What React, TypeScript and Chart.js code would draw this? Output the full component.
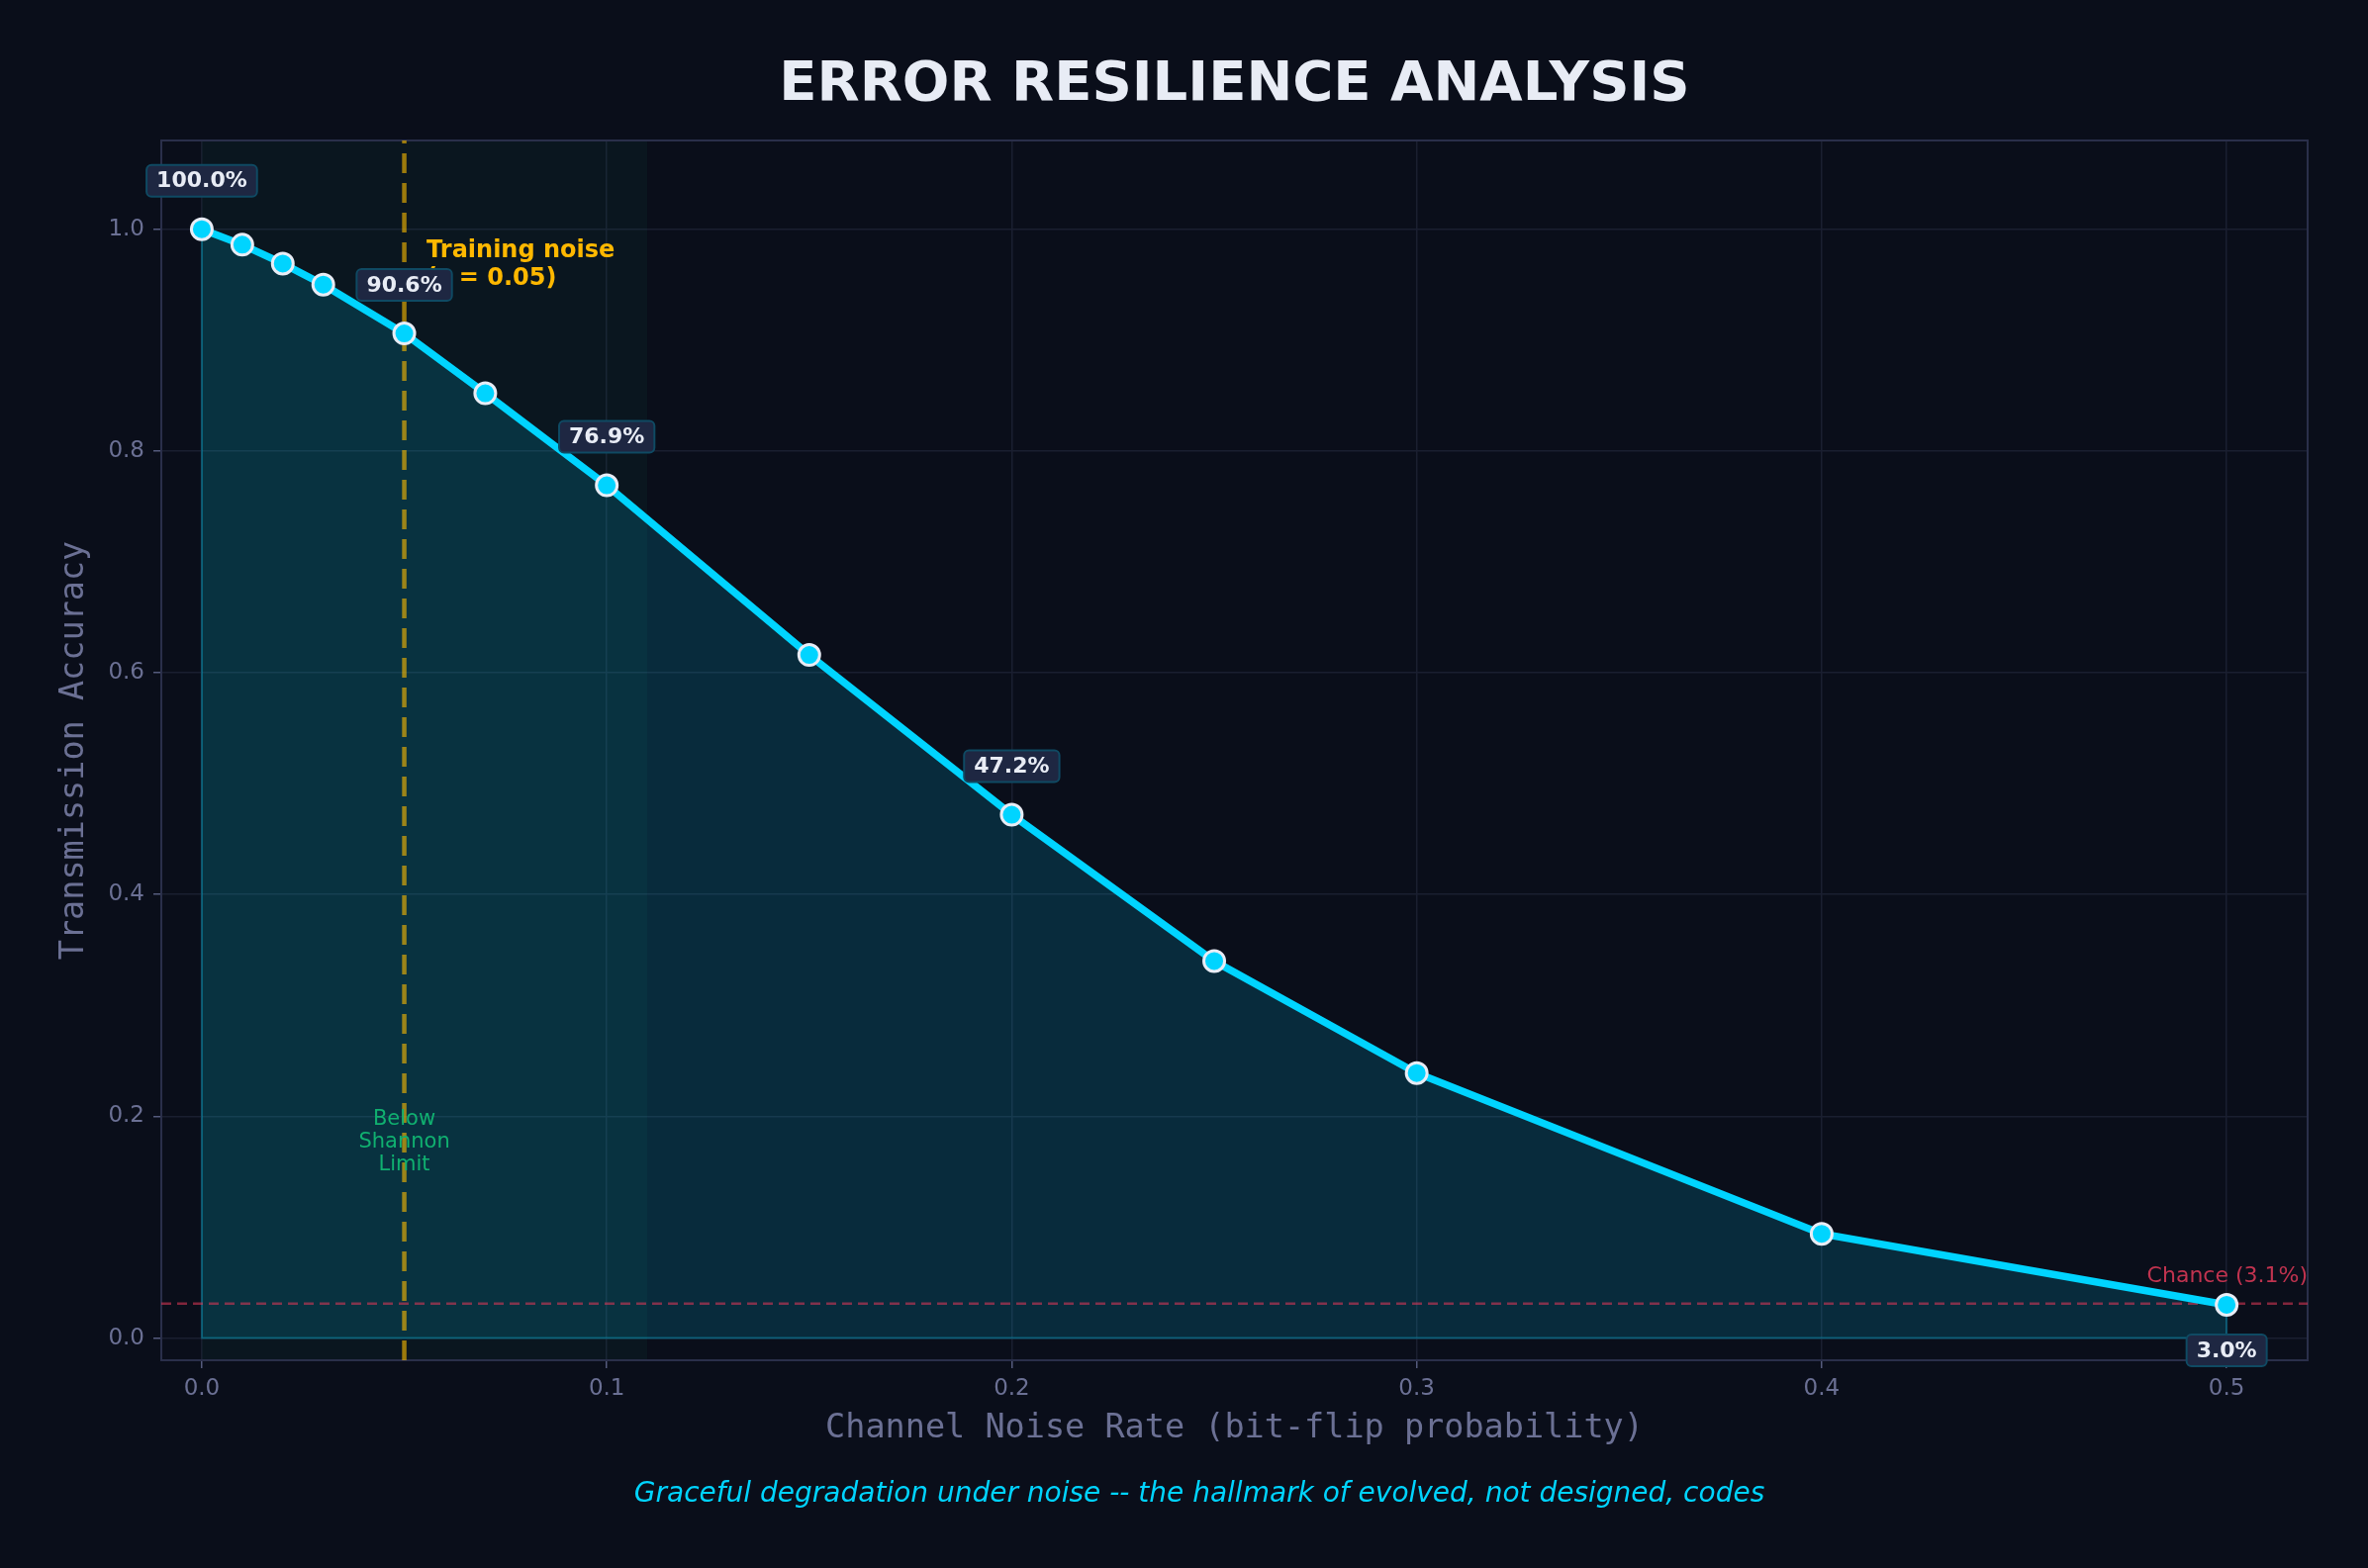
import { useEffect, useRef } from 'react';
import { Chart, registerables } from 'chart.js';

Chart.register(...registerables);

// Measured accuracy vs channel noise
const noiseRates = [0, 0.01, 0.02, 0.03, 0.05, 0.07, 0.1, 0.15, 0.2, 0.25, 0.3, 0.4, 0.5];
const accuracy = [1.0, 0.986, 0.969, 0.95, 0.906, 0.852, 0.769, 0.616, 0.472, 0.34, 0.239, 0.094, 0.03];
const labeledIndices = [0, 4, 6, 8, 12];

const xTicks = [0, 0.1, 0.2, 0.3, 0.4, 0.5];
const yTicks = [0, 0.2, 0.4, 0.6, 0.8, 1.0];
const xRange = [-0.01, 0.52];
const yRange = [-0.02, 1.08];

const trainingNoise = 0.05;
const shannonLimit = 0.11;
const chanceLevel = 0.031;

const BG = '#0a0e1a';
const CYAN = '#00d4ff';
const MUTED = '#6b7094';
const WHITE = '#e8ecf5';

const overlayPlugin = {
  id: 'overlay',
  beforeDatasetsDraw(chart: any) {
    const { ctx, chartArea: a, scales } = chart;
    const x0 = scales.x.getPixelForValue(0);
    const x1 = scales.x.getPixelForValue(shannonLimit);
    ctx.save();
    ctx.fillStyle = 'rgba(16, 185, 129, 0.05)';
    ctx.fillRect(x0, a.top, x1 - x0, a.bottom - a.top);
    // plot frame
    ctx.strokeStyle = '#2a2f4a';
    ctx.lineWidth = 2;
    ctx.strokeRect(a.left, a.top, a.right - a.left, a.bottom - a.top);
    ctx.restore();
  },
  afterDatasetsDraw(chart: any) {
    const { ctx, chartArea: a, scales } = chart;
    const xs = scales.x;
    const ys = scales.y;
    ctx.save();

    // below shannon limit note
    ctx.fillStyle = '#10b070';
    ctx.font = '21px "DejaVu Sans"';
    ctx.textAlign = 'center';
    ctx.textBaseline = 'middle';
    const sx = xs.getPixelForValue(trainingNoise);
    ['Below', 'Shannon', 'Limit'].forEach((t, i) => ctx.fillText(t, sx, 1132 + i * 23));

    // training noise note
    ctx.fillStyle = '#ffb800';
    ctx.font = 'bold 24px "DejaVu Sans"';
    ctx.textAlign = 'left';
    const tx = xs.getPixelForValue(trainingNoise + 0.0055);
    ctx.fillText('Training noise', tx, 254);
    ctx.fillText(`(\u03b5 = ${trainingNoise.toFixed(2)})`, tx, 282);

    // chance label
    ctx.fillStyle = '#c0334f';
    ctx.font = '22px "DejaVu Sans"';
    ctx.textAlign = 'right';
    ctx.textBaseline = 'bottom';
    ctx.fillText(`Chance (${(chanceLevel * 100).toFixed(1)}%)`, a.right, ys.getPixelForValue(chanceLevel) - 17);

    // value boxes
    ctx.font = 'bold 22px "DejaVu Sans"';
    ctx.textAlign = 'center';
    ctx.textBaseline = 'middle';
    labeledIndices.forEach((idx) => {
      const px = xs.getPixelForValue(noiseRates[idx]);
      const py = ys.getPixelForValue(accuracy[idx]);
      const below = idx === noiseRates.length - 1;
      const cy = below ? py + 46 : py - 49;
      const text = `${(accuracy[idx] * 100).toFixed(1)}%`;
      const w = ctx.measureText(text).width + 20;
      const h = 32;
      ctx.beginPath();
      ctx.roundRect(px - w / 2, cy - h / 2, w, h, 5);
      ctx.fillStyle = '#1e2742';
      ctx.fill();
      ctx.lineWidth = 2;
      ctx.strokeStyle = '#0f4a63';
      ctx.stroke();
      ctx.fillStyle = WHITE;
      ctx.fillText(text, px, cy + 1);
    });
    ctx.restore();
  },
  afterDraw(chart: any) {
    const { ctx, chartArea: a } = chart;
    ctx.save();
    ctx.fillStyle = WHITE;
    ctx.font = 'bold 56px "DejaVu Sans"';
    ctx.textAlign = 'center';
    ctx.textBaseline = 'middle';
    ctx.fillText('ERROR RESILIENCE ANALYSIS', (a.left + a.right) / 2, 86);

    ctx.fillStyle = CYAN;
    ctx.font = 'italic 28px "DejaVu Sans"';
    ctx.fillText('Graceful degradation under noise -- the hallmark of evolved, not designed, codes', 1212, 1511);
    ctx.restore();
  },
};

export default function App() {
  const canvasRef = useRef<HTMLCanvasElement>(null);
  const chartInstance = useRef<Chart | null>(null);

  useEffect(() => {
    document.body.style.margin = '0';
    document.body.style.background = BG;
    if (!canvasRef.current) return;
    if (chartInstance.current) chartInstance.current.destroy();

    const points = noiseRates.map((x, i) => ({ x, y: accuracy[i] }));
    const last = noiseRates.length - 1;

    chartInstance.current = new Chart(canvasRef.current, {
      type: 'line',
      data: {
        datasets: [
          {
            data: points,
            fill: 'origin',
            backgroundColor: 'rgba(0, 212, 255, 0.15)',
            borderWidth: 0,
            pointRadius: 0,
            order: 4,
          },
          {
            // edges of the filled area
            data: [
              { x: noiseRates[last], y: accuracy[last] },
              { x: noiseRates[last], y: 0 },
              { x: noiseRates[0], y: 0 },
              { x: noiseRates[0], y: accuracy[0] },
            ],
            borderColor: 'rgba(0, 212, 255, 0.3)',
            borderWidth: 2,
            pointRadius: 0,
            fill: false,
            order: 3,
          },
          {
            data: [
              { x: xRange[0], y: chanceLevel },
              { x: xRange[1], y: chanceLevel },
            ],
            borderColor: 'rgba(230, 57, 90, 0.55)',
            borderWidth: 2.5,
            borderDash: [10, 6],
            pointRadius: 0,
            fill: false,
            order: 2,
          },
          {
            data: [
              { x: trainingNoise, y: yRange[0] },
              { x: trainingNoise, y: yRange[1] },
            ],
            borderColor: 'rgba(255, 190, 0, 0.6)',
            borderWidth: 4.5,
            borderDash: [20, 10],
            pointRadius: 0,
            fill: false,
            order: 2,
          },
          {
            data: points,
            borderColor: CYAN,
            borderWidth: 7.5,
            tension: 0,
            fill: false,
            pointRadius: 10.5,
            pointBackgroundColor: CYAN,
            pointBorderColor: WHITE,
            pointBorderWidth: 3,
            order: 0,
          },
        ],
      },
      options: {
        responsive: true,
        maintainAspectRatio: false,
        animation: false,
        layout: { padding: { left: 0, top: 142, right: 61, bottom: 0 } },
        plugins: {
          legend: { display: false },
          tooltip: { enabled: false },
        },
        scales: {
          x: {
            type: 'linear',
            min: xRange[0],
            max: xRange[1],
            afterBuildTicks: (scale: any) => {
              scale.ticks = xTicks.map((value) => ({ value }));
            },
            afterFit: (scale: any) => {
              scale.height = 210;
            },
            border: { display: false },
            grid: { color: '#1a1f30', tickColor: '#555b7d', tickLength: 8, lineWidth: 1.5 },
            ticks: {
              color: MUTED,
              font: { size: 23, family: 'DejaVu Sans' },
              padding: 7,
              maxRotation: 0,
              callback: (v: any) => Number(v).toFixed(1),
            },
            title: {
              display: true,
              text: 'Channel Noise Rate (bit-flip probability)',
              color: MUTED,
              font: { size: 33.5, family: 'DejaVu Sans Mono' },
              padding: { top: 0, bottom: 121 },
            },
          },
          y: {
            type: 'linear',
            min: yRange[0],
            max: yRange[1],
            afterBuildTicks: (scale: any) => {
              scale.ticks = yTicks.map((value) => ({ value }));
            },
            afterFit: (scale: any) => {
              scale.width = 163;
            },
            border: { display: false },
            grid: { color: '#1a1f30', tickColor: '#555b7d', tickLength: 8, lineWidth: 1.5 },
            ticks: {
              color: MUTED,
              font: { size: 23, family: 'DejaVu Sans' },
              padding: 9,
              callback: (v: any) => Number(v).toFixed(1),
            },
            title: {
              display: true,
              text: 'Transmission Accuracy',
              color: MUTED,
              font: { size: 33.5, family: 'DejaVu Sans Mono' },
              padding: { top: 55, bottom: 0 },
            },
          },
        },
      },
      plugins: [overlayPlugin],
    });

    return () => {
      if (chartInstance.current) {
        chartInstance.current.destroy();
        chartInstance.current = null;
      }
    };
  }, []);

  return (
    <div style={{ width: 2393, height: 1585, background: BG, position: 'relative' }}>
      <canvas ref={canvasRef}></canvas>
    </div>
  );
}
